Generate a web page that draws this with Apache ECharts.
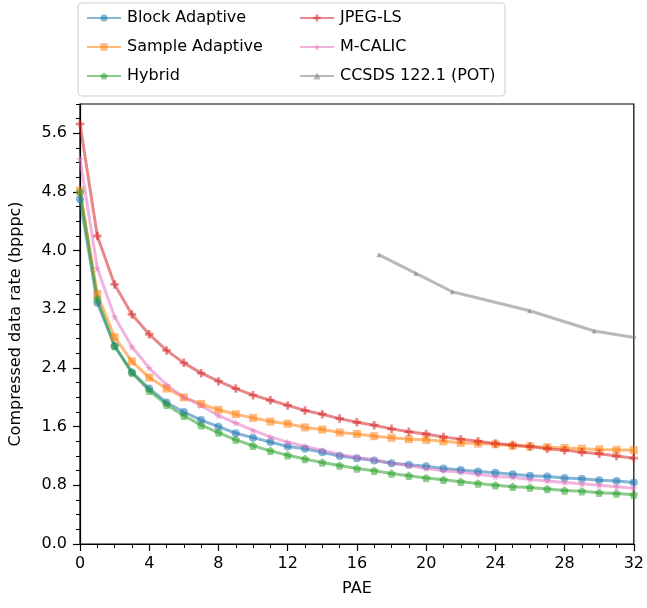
<!DOCTYPE html>
<html><head><meta charset="utf-8">
<script src="https://cdn.jsdelivr.net/npm/echarts@6/dist/echarts.min.js"></script>
<style>html,body{margin:0;padding:0;background:#fff}#c{width:647px;height:608px}</style>
</head><body><div id="c"></div>
<script>
const pae = [0,1,2,3,4,5,6,7,8,9,10,11,12,13,14,15,16,17,18,19,20,21,22,23,24,25,26,27,28,29,30,31,32];
const blockAdaptive = [4.70,3.29,2.70,2.34,2.12,1.93,1.80,1.69,1.60,1.51,1.45,1.39,1.33,1.30,1.25,1.20,1.17,1.14,1.10,1.08,1.06,1.03,1.01,0.99,0.97,0.95,0.93,0.92,0.90,0.89,0.87,0.86,0.84];
const sampleAdaptive = [4.82,3.41,2.82,2.49,2.27,2.12,2.00,1.91,1.83,1.77,1.72,1.67,1.64,1.59,1.56,1.52,1.50,1.47,1.45,1.43,1.42,1.40,1.38,1.37,1.36,1.34,1.33,1.32,1.31,1.30,1.29,1.285,1.28];
const hybrid = [4.80,3.34,2.70,2.34,2.09,1.90,1.75,1.62,1.52,1.42,1.34,1.27,1.21,1.16,1.11,1.07,1.03,1.00,0.96,0.93,0.90,0.875,0.85,0.825,0.80,0.78,0.77,0.75,0.73,0.72,0.70,0.69,0.67];
const jpegLS = [5.73,4.20,3.54,3.13,2.86,2.64,2.47,2.33,2.22,2.12,2.03,1.96,1.89,1.82,1.77,1.71,1.66,1.62,1.57,1.53,1.50,1.46,1.43,1.40,1.37,1.35,1.33,1.30,1.28,1.25,1.23,1.20,1.17];
const mCalic = [5.25,3.76,3.10,2.69,2.40,2.17,2.00,1.89,1.75,1.65,1.55,1.46,1.39,1.33,1.28,1.22,1.18,1.15,1.10,1.07,1.03,1.00,0.98,0.95,0.92,0.91,0.88,0.86,0.84,0.82,0.80,0.78,0.76];
const ccsdsPAE = [17.26,19.41,21.51,25.98,29.71,34.5];
const ccsdsRate = [3.945,3.69,3.44,3.18,2.905,2.72];
const xTicks = [0,4,8,12,16,20,24,28,32];
const yTicks = [0,0.8,1.6,2.4,3.2,4.0,4.8,5.6];
const yMinorTicks = [0.2,0.4,0.6,1.0,1.2,1.4,1.8,2.0,2.2,2.6,2.8,3.0,3.4,3.6,3.8,4.2,4.4,4.6,5.0,5.2,5.4,5.8,6.0];

const FONT = 'DejaVu Sans';
const ALPHA = 0.55;
const pentagon = 'path://M0,-1 L0.951,-0.309 L0.588,0.809 L-0.588,0.809 L-0.951,-0.309 Z';
const plusFilled = 'path://M-1,-0.33 L-0.33,-0.33 L-0.33,-1 L0.33,-1 L0.33,-0.33 L1,-0.33 L1,0.33 L0.33,0.33 L0.33,1 L-0.33,1 L-0.33,0.33 L-1,0.33 Z';
const star = 'path://M0,-1 L0.2245,-0.309 L0.951,-0.309 L0.363,0.118 L0.588,0.809 L0,0.382 L-0.588,0.809 L-0.363,0.118 L-0.951,-0.309 L-0.2245,-0.309 Z';

function pairs(xs, ys){ return xs.map((x,i)=>[x, ys[i]]); }
function mk(name, color, symbol, size, xs, ys){
  return {
    name, type:'line', data: pairs(xs, ys), symbol, symbolSize:size,
    showSymbol:true, clip:true, animation:false,
    lineStyle:{color, width:3, opacity:ALPHA},
    itemStyle:{color, opacity:ALPHA, borderWidth:0},
    emphasis:{disabled:true}
  };
}
const series = [
  mk('Block Adaptive', '#1f77b4', 'circle', 8, pae, blockAdaptive),
  mk('Sample Adaptive', '#ff7f0e', 'rect', 8, pae, sampleAdaptive),
  mk('Hybrid', '#2ca02c', pentagon, 8.5, pae, hybrid),
  mk('JPEG-LS', '#d62728', plusFilled, 8.5, pae, jpegLS),
  mk('M-CALIC', '#e377c2', star, 8, pae, mCalic),
  mk('CCSDS 122.1 (POT)', '#7f7f7f', 'triangle', 5, ccsdsPAE, ccsdsRate)
];
const legendCommon = {
  orient:'vertical', itemWidth:34, itemHeight:9, itemGap:0, top:-1.5,
  textStyle:{fontFamily:FONT, fontSize:16, color:'#000', lineHeight:29, padding:[0,0,0,1]},
  selectedMode:false
};
const chart = echarts.init(document.getElementById('c'), null, {renderer:'canvas'});
chart.setOption({
  animation:false,
  backgroundColor:'#fff',
  grid:{left:80, right:13, top:104, bottom:64, show:true, borderColor:'#000', borderWidth:1.2, backgroundColor:'transparent'},
  legend:[
    Object.assign({}, legendCommon, {left:81, data:['Block Adaptive','Sample Adaptive','Hybrid']}),
    Object.assign({}, legendCommon, {left:294, data:['JPEG-LS','M-CALIC','CCSDS 122.1 (POT)']})
  ],
  graphic:[{type:'rect', left:75.5, top:0.5, shape:{width:427, height:93, r:4}, style:{fill:'none', stroke:'#d4d4d4', lineWidth:1.2}, z:-1}],
  xAxis:{
    type:'value', min:0, max:32, interval:4,
    name:'PAE', nameLocation:'middle', nameGap:37,
    nameTextStyle:{fontFamily:FONT, fontSize:16, color:'#000'},
    axisLine:{show:true, lineStyle:{color:'#000', width:1.2}},
    axisTick:{show:true, length:7, lineStyle:{color:'#000', width:1.2}},
    minorTick:{show:true, splitNumber:4, length:4, lineStyle:{color:'#000', width:1}},
    axisLabel:{fontFamily:FONT, fontSize:16, color:'#000', margin:12, customValues:xTicks},
    splitLine:{show:false}, minorSplitLine:{show:false}
  },
  yAxis:[{
    type:'value', min:0, max:6.0, interval:0.8, position:'left',
    name:'Compressed data rate (bpppc)', nameLocation:'middle', nameGap:56,
    nameTextStyle:{fontFamily:FONT, fontSize:16, color:'#000'},
    axisLine:{show:true, lineStyle:{color:'#000', width:1.2}},
    axisTick:{show:true, length:7, lineStyle:{color:'#000', width:1.2}, customValues:yTicks},
    axisLabel:{fontFamily:FONT, fontSize:16, color:'#000', margin:13, customValues:yTicks, formatter:v=>Number(v).toFixed(1)},
    splitLine:{show:false}
  },{
    type:'value', min:0, max:6.0, position:'left', offset:0,
    axisLine:{show:false},
    axisTick:{show:true, length:4, lineStyle:{color:'#000', width:1}, customValues:yMinorTicks},
    axisLabel:{show:false},
    splitLine:{show:false}
  }],
  series
});
</script>
</body></html>
